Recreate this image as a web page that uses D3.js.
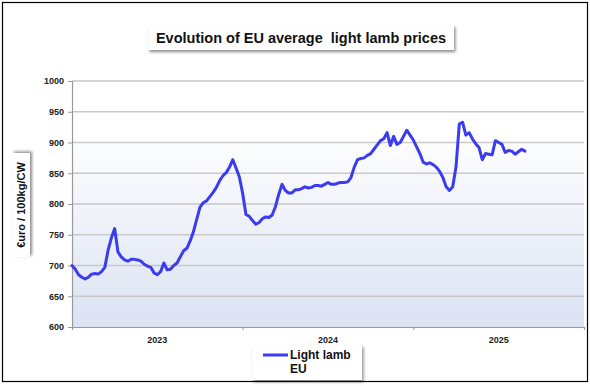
<!DOCTYPE html>
<html><head><meta charset="utf-8">
<script src="https://cdn.jsdelivr.net/npm/d3@7"></script>
<style>body{margin:0;background:#fff}svg{display:block;font-family:Arial,"Liberation Sans",sans-serif}text{white-space:pre}</style>
</head><body><svg id="c" width="590" height="386"></svg>
<script>
const title = "Evolution of EU average  light lamb prices";
const yTitle = "€uro / 100kg/CW";
const seriesName = ["Light lamb", "EU"];
const years = ["2023", "2024", "2025"];
const weeksPerYear = 52;
const yTicks = [600, 650, 700, 750, 800, 850, 900, 950, 1000];
// weekly prices, from week 1 of 2023
const prices = [
700,694,685,681,678,681,686,687,686,690,697,725,745,760,722,714,709,707,710,710,
709,707,702,699,697,688,685,690,704,693,694,700,704,714,724,728,740,755,775,795,
802,805,812,819,827,838,846,851,860,872,858,844,817,783,780,773,767,770,776,779,
778,782,796,816,832,822,818,818,823,823,825,828,826,827,830,830,829,832,835,832,
832,834,835,835,836,843,860,872,874,875,879,882,889,896,903,906,916,895,910,897,
900,910,920,912,904,893,882,868,865,867,864,860,853,843,828,822,828,860,930,933,
912,916,906,898,892,872,882,881,880,903,900,897,884,887,886,881,885,889,886
];

const svg = d3.select("#c");
const L = 72, R = 584, T = 81, B = 327;
const defs = svg.append("defs");
const g = defs.append("linearGradient").attr("id","bg").attr("x1",0).attr("y1",0).attr("x2",0).attr("y2",1);
g.append("stop").attr("offset","0%").attr("stop-color","#ffffff");
g.append("stop").attr("offset","20%").attr("stop-color","#ffffff");
g.append("stop").attr("offset","100%").attr("stop-color","#dbe2f2");
const f = defs.append("filter").attr("id","sh").attr("x","-10%").attr("y","-30%").attr("width","130%").attr("height","170%");
f.append("feDropShadow").attr("dx",1.5).attr("dy",2).attr("stdDeviation",1.5).attr("flood-color","#000").attr("flood-opacity",0.45);

// outer frame
svg.append("rect").attr("x",2.5).attr("y",2.5).attr("width",585).attr("height",379).attr("fill","#fff").attr("stroke","#000").attr("stroke-width",1.2);

const x = d3.scaleLinear().domain([0, weeksPerYear*years.length]).range([L, R]);
const y = d3.scaleLinear().domain([600, 1000]).range([B, T]);

svg.append("rect").attr("x",L).attr("y",T).attr("width",R-L).attr("height",B-T).attr("fill","url(#bg)");

// gridlines
svg.append("g").selectAll("line").data(yTicks.slice(1)).join("line")
  .attr("x1",L).attr("x2",R).attr("y1",d=>y(d)).attr("y2",d=>y(d))
  .attr("stroke","#c9c9c9").attr("stroke-width",1.5);

// y axis
const ya = svg.append("g").attr("transform",`translate(${L},0)`)
  .call(d3.axisLeft(y).tickValues(yTicks).tickFormat(d3.format("d")).tickSize(4).tickPadding(4));
ya.select(".domain").attr("stroke","#999").attr("stroke-width",1.2);
ya.selectAll(".tick line").attr("stroke","#999");
ya.selectAll("text").attr("font-size",9).attr("font-weight","bold").attr("fill","#222").attr("font-family","Arial, Liberation Sans, sans-serif");

// x axis
const xa = svg.append("g").attr("transform",`translate(0,${B})`)
  .call(d3.axisBottom(x).tickValues(d3.range(1, years.length).map(i=>i*weeksPerYear)).tickSize(3).tickFormat(""));
xa.select(".domain").attr("stroke","#999").attr("stroke-width",1.2);
xa.selectAll(".tick line").attr("stroke","#999");
svg.append("g").selectAll("text").data(years).join("text")
  .attr("x",(d,i)=>x(i*weeksPerYear + weeksPerYear/2)).attr("y",B+16)
  .attr("text-anchor","middle").attr("font-size",9).attr("font-weight","bold").attr("fill","#222").text(d=>d);

// line
const line = d3.line().x((d,i)=>x(i)).y(d=>y(d)).curve(d3.curveLinear);
svg.append("path").datum(prices).attr("d",line).attr("fill","none")
  .attr("stroke","#3b3bef").attr("stroke-width",3).attr("stroke-linejoin","round").attr("stroke-linecap","round");

// title
const tg = svg.append("g");
tg.append("rect").attr("x",148).attr("y",25).attr("width",306).attr("height",25).attr("fill","#fff").attr("filter","url(#sh)");
tg.append("text").attr("x",301).attr("y",43).attr("text-anchor","middle").attr("font-size",14.5).attr("font-weight","bold").attr("fill","#111").text(title);

// y title
const yg = svg.append("g").attr("transform","translate(21,205) rotate(-90)");
yg.append("rect").attr("x",-52).attr("y",-9).attr("width",104).attr("height",18).attr("fill","#fff").attr("filter","url(#sh)");
yg.append("text").attr("x",0).attr("y",4).attr("text-anchor","middle").attr("font-size",11).attr("font-weight","bold").attr("fill","#111").text(yTitle);

// legend
const lg = svg.append("g");
lg.append("rect").attr("x",252).attr("y",345).attr("width",110).attr("height",35).attr("fill","#fff").attr("filter","url(#sh)");
lg.append("line").attr("x1",263).attr("x2",288).attr("y1",355).attr("y2",355).attr("stroke","#3b3bef").attr("stroke-width",3);
lg.selectAll("text").data(seriesName).join("text").attr("x",290).attr("y",(d,i)=>359+i*14)
  .attr("font-size",12).attr("font-weight","bold").attr("fill","#111").text(d=>d);
</script></body></html>
